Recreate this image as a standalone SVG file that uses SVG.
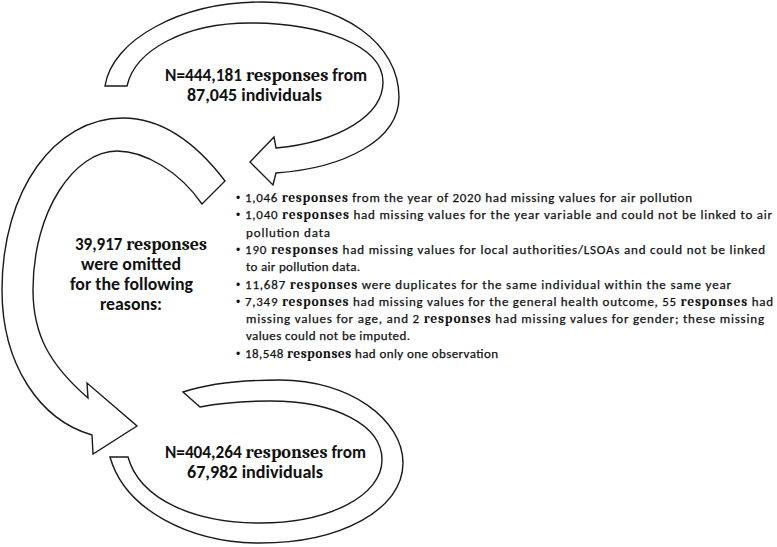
<svg xmlns="http://www.w3.org/2000/svg" width="777" height="547" viewBox="0 0 777 547">
<style>
.arrow{fill:#fff;stroke:#1a1a1a;stroke-width:1.4;stroke-linejoin:miter}
.h{font-family:Carlito,"Liberation Sans",Arial,sans-serif;font-weight:bold;font-size:17px;fill:#111}
.hr{font-family:Caladea,"Liberation Serif","Times New Roman",serif;font-weight:bold;font-size:18px}
.b{font-family:Carlito,"Liberation Sans",Arial,sans-serif;font-size:13px;fill:#111;stroke:#111;stroke-width:0.25}
.br{font-family:Caladea,"Liberation Serif","Times New Roman",serif;font-weight:bold;font-size:13.5px;stroke-width:0}
.dot{font-family:"Liberation Sans",Arial,sans-serif;font-size:12px;fill:#111}
</style>
<rect width="777" height="547" fill="#fff"/>
<g id="connectors">
  <path id="arrow-top" class="arrow" d="M105,86 C112,40 180,2 262,2 C345,2 399,45 399,97 C399,140 345,168 276,173 L273,185 L250,162 L274,137 L276,148 C340,142 383,115 383,82 C383,45 320,23 250,23 C185,23 135,50 127,86 Z"/>
  <path id="arrow-left" class="arrow" d="M225,181 C190,135 155,118 123,118 C55,118 2,190 2,290 C2,365 40,420 92,435 L93,454 L137,426 L87,383 L88,398 C50,365 33,335 33,290 C33,210 75,151 117,151 C145,151 180,172 202,204 Z"/>
  <path id="arrow-bottom" class="arrow" d="M183,392 C210,383 245,380 280,380 C350,380 403,420 403,463 C403,510 340,543 260,543 C190,543 125,510 110,457 L128,457 C140,500 195,523 260,523 C330,523 382,495 382,460 C382,425 335,401 270,401 C245,401 220,403 200,407 Z"/>
</g>
<g id="start-count">
  <text class="h" x="165" y="81" textLength="202" lengthAdjust="spacingAndGlyphs">N=444,181 <tspan class="hr">responses</tspan> from</text>
  <text class="h" x="187" y="101" textLength="135" lengthAdjust="spacingAndGlyphs">87,045 individuals</text>
</g>
<g id="omitted">
  <text class="h" x="75" y="250" textLength="132" lengthAdjust="spacingAndGlyphs">39,917 <tspan class="hr">responses</tspan></text>
  <text class="h" x="81" y="270" textLength="100" lengthAdjust="spacingAndGlyphs">were omitted</text>
  <text class="h" x="70" y="290" textLength="123" lengthAdjust="spacingAndGlyphs">for the following</text>
  <text class="h" x="100" y="310" textLength="62" lengthAdjust="spacingAndGlyphs">reasons:</text>
</g>
<g id="reasons">
  <text class="dot" x="236" y="202">•</text>
  <text class="b" x="245" y="202" textLength="447" lengthAdjust="spacing">1,046 <tspan class="br">responses</tspan> from the year of 2020 had missing values for air pollution</text>
  <text class="dot" x="236" y="219">•</text>
  <text class="b" x="245" y="219" textLength="527" lengthAdjust="spacing">1,040 <tspan class="br">responses</tspan> had missing values for the year variable and could not be linked to air</text>
  <text class="b" x="246" y="237" textLength="84" lengthAdjust="spacing">pollution data</text>
  <text class="dot" x="236" y="254">•</text>
  <text class="b" x="245" y="254" textLength="520" lengthAdjust="spacing">190 <tspan class="br">responses</tspan> had missing values for local authorities/LSOAs and could not be linked</text>
  <text class="b" x="246" y="271" textLength="114" lengthAdjust="spacing">to air pollution data.</text>
  <text class="dot" x="236" y="289">•</text>
  <text class="b" x="245" y="289" textLength="486" lengthAdjust="spacing">11,687 <tspan class="br">responses</tspan> were duplicates for the same individual within the same year</text>
  <text class="dot" x="236" y="306">•</text>
  <text class="b" x="245" y="306" textLength="528" lengthAdjust="spacing">7,349 <tspan class="br">responses</tspan> had missing values for the general health outcome, 55 <tspan class="br">responses</tspan> had</text>
  <text class="b" x="246" y="323" textLength="518" lengthAdjust="spacing">missing values for age, and 2 <tspan class="br">responses</tspan> had missing values for gender; these missing</text>
  <text class="b" x="246" y="340" textLength="164" lengthAdjust="spacing">values could not be imputed.</text>
  <text class="dot" x="236" y="358">•</text>
  <text class="b" x="245" y="358" textLength="253" lengthAdjust="spacing">18,548 <tspan class="br">responses</tspan> had only one observation</text>
</g>
<g id="final-count">
  <text class="h" x="165" y="458" textLength="201" lengthAdjust="spacingAndGlyphs">N=404,264 <tspan class="hr">responses</tspan> from</text>
  <text class="h" x="187" y="478" textLength="136" lengthAdjust="spacingAndGlyphs">67,982 individuals</text>
</g>
</svg>
